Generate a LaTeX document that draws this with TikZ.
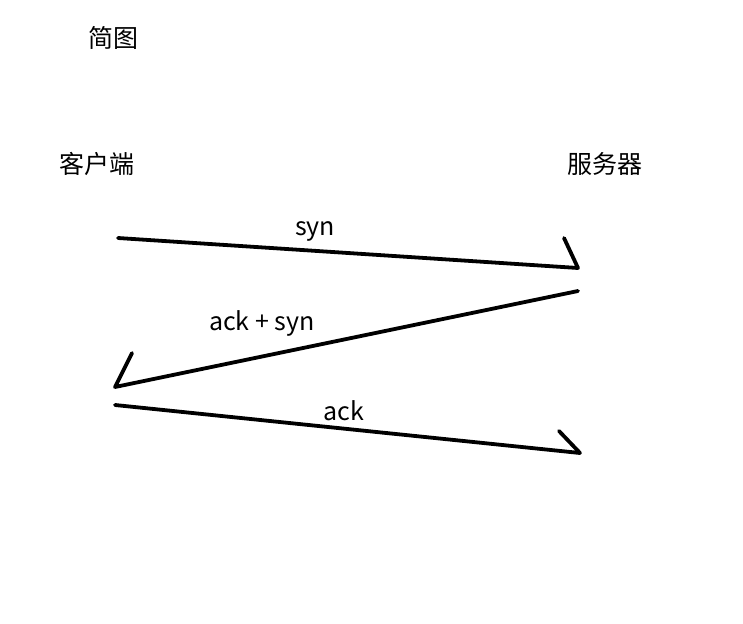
\documentclass[tikz,border=0pt]{standalone}
\usepackage{fontspec}
\setmainfont{Noto Sans CJK SC}
\begin{document}
\begin{tikzpicture}[x=1pt,y=-1pt,
  lbl/.style={font=\fontsize{25}{28}\selectfont, inner sep=0pt},
  stroke/.style={line width=3.8pt, line cap=round, line join=round}]
\useasboundingbox (0,0) rectangle (743,623);
\node[lbl] (title) at (113,38) {简图};
\node[lbl] (client) at (97,164) {客户端};
\node[lbl] (server) at (605,164) {服务器};
\coordinate (a1s) at (118,238);
\coordinate (a1e) at (578,268);
\coordinate (a1b) at (564,238);
\coordinate (a2s) at (578,291);
\coordinate (a2e) at (115,387);
\coordinate (a2b) at (132,353);
\coordinate (a3s) at (115,405);
\coordinate (a3e) at (580,453);
\coordinate (a3b) at (559,431);
\draw[stroke] (a1s) -- (a1e) -- (a1b);
\draw[stroke] (a2s) -- (a2e) -- (a2b);
\draw[stroke] (a3s) -- (a3e) -- (a3b);
\node[lbl] (l1) at (315,231) {syn};
\node[lbl] (l2) at (262,323) {ack\ + syn};
\node[lbl] (l3) at (344,411) {ack};
\end{tikzpicture}
\end{document}
